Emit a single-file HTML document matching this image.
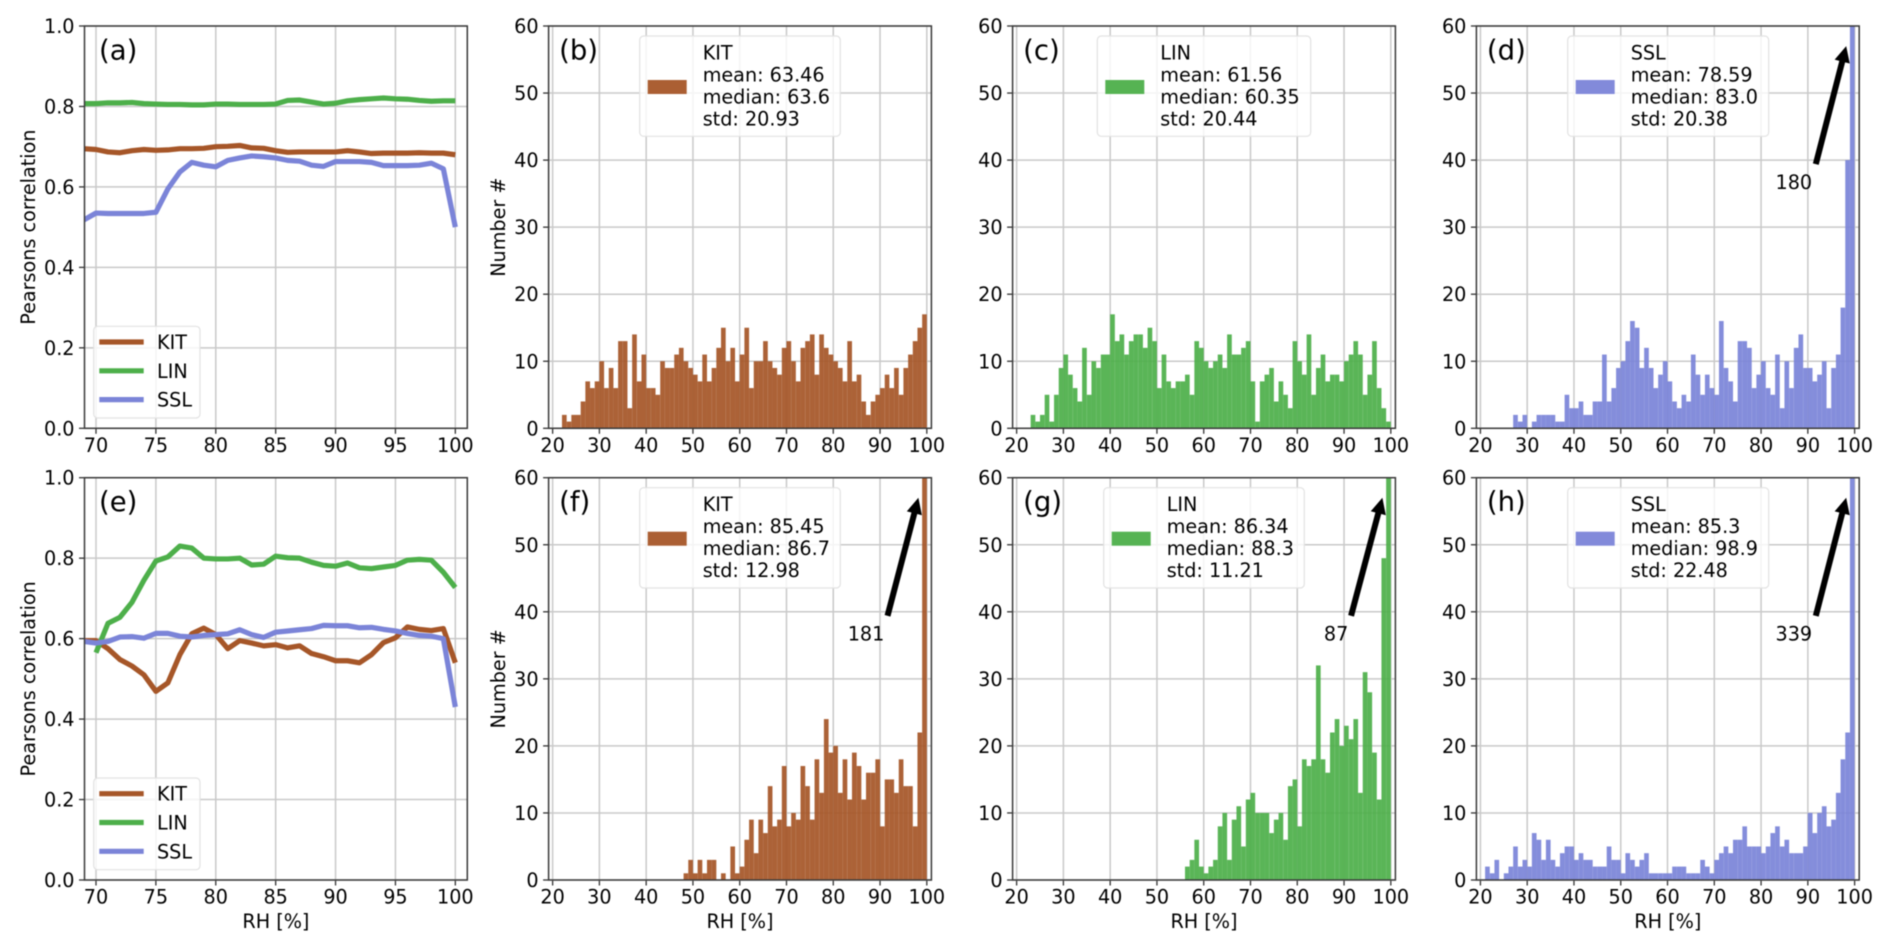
<!DOCTYPE html>
<html lang="en">
<head>
<meta charset="utf-8">
<title>RH correlation and histograms</title>
<style>
html,body{margin:0;padding:0;background:#fff;width:1892px;height:950px;overflow:hidden}
svg{display:block;filter:blur(0.6px)}
text{font-family:"DejaVu Sans","Liberation Sans",sans-serif;fill:#000}
</style>
</head>
<body>
<svg id="chart" xmlns="http://www.w3.org/2000/svg" width="1892" height="950" viewBox="0 0 1892 950"></svg>
<script>
// ---------- data ----------
const rhValues = [69,70,71,72,73,74,75,76,77,78,79,80,81,82,83,84,85,86,87,88,89,90,91,92,93,94,95,96,97,98,99,100];
const corrTicks = [0,0.2,0.4,0.6,0.8,1.0];
const corrTickLabels = ['0.0','0.2','0.4','0.6','0.8','1.0'];
const rhLineTicks = [70,75,80,85,90,95,100];
const countTicks = [0,10,20,30,40,50,60];
const rhHistTicks = [20,30,40,50,60,70,80,90,100];

const kitCorrA = [.695,.693,.687,.685,.69,.693,.691,.692,.695,.695,.696,.70,.701,.703,.697,.696,.69,.686,.687,.687,.687,.687,.69,.687,.683,.684,.684,.684,.685,.684,.684,.68];
const linCorrA = [.807,.807,.809,.809,.81,.807,.806,.805,.805,.804,.804,.806,.806,.805,.805,.805,.806,.815,.816,.811,.806,.808,.814,.817,.819,.821,.819,.818,.815,.813,.814,.814];
const sslCorrA = [.518,.535,.534,.534,.534,.534,.537,.595,.637,.661,.654,.65,.666,.672,.677,.675,.672,.666,.664,.654,.651,.663,.663,.663,.661,.653,.653,.653,.654,.659,.645,.50];

const kitCorrE = [.595,.595,.575,.548,.532,.51,.469,.49,.56,.612,.626,.61,.575,.595,.589,.582,.585,.577,.582,.563,.555,.545,.545,.54,.56,.59,.602,.629,.623,.62,.625,.54];
const linCorrE = [null,.565,.638,.653,.69,.745,.793,.803,.83,.825,.80,.798,.798,.80,.783,.785,.805,.801,.80,.79,.782,.78,.788,.776,.774,.778,.782,.795,.797,.795,.765,.727];
const sslCorrE = [.593,.589,.593,.604,.605,.601,.613,.613,.606,.604,.608,.61,.612,.622,.61,.603,.616,.619,.622,.625,.633,.632,.632,.627,.628,.623,.619,.613,.608,.606,.6,.43];

const firstBinB = 22;
const countsB = [2,1,2,2,4,7,6,7,10,6,9,6,13,13,3,14,7,11,6,6,5,10,9,9,11,12,10,9,8,7,11,7,9,12,15,10,12,7,11,15,6,10,10,13,10,9,8,12,13,10,7,12,13,14,8,14,12,11,10,9,7,13,7,8,4,2,4,5,6,8,6,9,5,9,11,13,15,17];
const firstBinC = 23;
const countsC = [2,1,2,5,1,5,9,11,8,6,4,12,5,10,9,11,11,17,13,14,11,13,14,14,12,15,13,6,11,7,6,7,7,8,5,13,12,10,9,10,11,9,14,11,11,12,13,7,1,7,8,9,4,7,5,3,13,10,8,14,5,9,11,7,8,8,7,10,11,13,11,5,8,13,6,3,1];
const firstBinD = 27;
const countsD = [2,1,2,0,1,2,2,2,2,1,1,5,3,3,4,2,2,4,4,11,4,6,9,10,13,16,15,9,12,9,6,8,10,7,4,3,5,4,11,8,5,8,6,5,16,9,7,4,13,13,12,6,8,10,6,5,11,3,10,6,12,14,9,9,7,8,10,3,9,11,18,40,180];
const firstBinF = 48;
const countsF = [1,3,1,3,1,3,3,0,1,0,5,1,2,6,9,4,9,7,14,8,9,17,8,10,9,17,14,9,18,13,24,19,20,13,18,12,19,17,12,16,16,18,8,15,15,13,18,14,14,8,22,181];
const firstBinG = 56;
const countsG = [2,3,6,2,1,2,3,8,10,3,9,11,5,12,13,10,10,10,7,9,10,6,14,15,8,18,17,18,32,18,16,22,24,20,23,21,24,13,31,28,19,12,48,87];
const firstBinH = 21;
const countsH = [2,1,3,0,1,2,5,2,3,2,7,6,3,6,3,2,4,5,5,3,4,3,3,2,2,2,5,3,3,1,4,3,2,3,4,1,1,1,1,1,2,2,2,1,1,1,3,2,1,3,4,5,4,6,6,8,5,5,5,4,5,7,8,5,6,4,4,4,5,10,7,10,11,8,9,13,18,22,339];

const statsB = ['KIT','mean: 63.46','median: 63.6','std: 20.93'];
const statsC = ['LIN','mean: 61.56','median: 60.35','std: 20.44'];
const statsD = ['SSL','mean: 78.59','median: 83.0','std: 20.38'];
const statsF = ['KIT','mean: 85.45','median: 86.7','std: 12.98'];
const statsG = ['LIN','mean: 86.34','median: 88.3','std: 11.21'];
const statsH = ['SSL','mean: 85.3','median: 98.9','std: 22.48'];

// ---------- styles ----------
const KIT_COLOR = '#a65628';
const LIN_COLOR = '#4daf4a';
const SSL_COLOR = '#7b84d8';
const FS = 19.2;
const svg = document.getElementById('chart');
const NS = 'http://www.w3.org/2000/svg';

function make(tag, attrs, parent) {
  const n = document.createElementNS(NS, tag);
  for (const k in attrs) n.setAttribute(k, attrs[k]);
  (parent || svg).appendChild(n);
  return n;
}
function scaleX(ax, v) { return ax.left + (v - ax.xmin) / (ax.xmax - ax.xmin) * (ax.right - ax.left); }
function scaleY(ax, v) { return ax.bottom - (v - ax.ymin) / (ax.ymax - ax.ymin) * (ax.bottom - ax.top); }

// ---------- shared axis frame ----------
function drawFrame(ax, key, letter, letterX, xTicks, xLabels, yTicks, yLabels, yTitle, yTitleX, xTitle) {
  const g = make('g', {});
  
  
  const clip = make('clipPath', { id: 'clip-' + key }, g);
  make('rect', { x: ax.left, y: ax.top, width: ax.right - ax.left, height: ax.bottom - ax.top }, clip);

  xTicks.forEach(function (t, i) {
    const x = scaleX(ax, t);
    const gl = make('line', { x1: x, x2: x, y1: ax.top, y2: ax.bottom, stroke: '#c9c9c9', 'stroke-width': 1.5 }, g);
    
    
    const tk = make('line', { x1: x, x2: x, y1: ax.bottom, y2: ax.bottom + 5.5, stroke: '#333', 'stroke-width': 1.3 }, g);
    
    
    const lb = make('text', { x: x, y: ax.bottom + 23.7, 'text-anchor': 'middle', 'font-size': FS }, g);
    lb.textContent = xLabels[i];
    
    
  });
  yTicks.forEach(function (t, i) {
    const y = scaleY(ax, t);
    const gl = make('line', { x1: ax.left, x2: ax.right, y1: y, y2: y, stroke: '#c9c9c9', 'stroke-width': 1.5 }, g);
    
    
    const tk = make('line', { x1: ax.left - 5.5, x2: ax.left, y1: y, y2: y, stroke: '#333', 'stroke-width': 1.3 }, g);
    
    
    const lb = make('text', { x: ax.left - 10, y: y + 7, 'text-anchor': 'end', 'font-size': FS }, g);
    lb.textContent = yLabels[i];
    
    
  });
  if (yTitle) {
    const cy = (ax.top + ax.bottom) / 2;
    const yt = make('text', { x: yTitleX, y: cy, 'text-anchor': 'middle', 'font-size': FS, transform: 'rotate(-90 ' + yTitleX + ' ' + cy + ')' }, g);
    yt.textContent = yTitle;
    
    
  }
  if (xTitle) {
    const xt = make('text', { x: (ax.left + ax.right) / 2, y: ax.bottom + 48, 'text-anchor': 'middle', 'font-size': FS }, g);
    xt.textContent = xTitle;
    
    
  }
  const marks = make('g', { 'clip-path': 'url(#clip-' + key + ')' }, g);
  
  
  const over = make('g', {}, g);
  
  

  const sp = make('rect', { x: ax.left, y: ax.top, width: ax.right - ax.left, height: ax.bottom - ax.top, fill: 'none', stroke: '#3a3a3a', 'stroke-width': 1.5 }, over);
  
  
  const pl = make('text', { x: letterX, y: ax.top + 33.5, 'font-size': 27.5 }, over);
  pl.textContent = letter;
  
  
  return { marks: marks, over: over };
}

// ---------- line panels ----------
function drawLinePanel(key, letter, top, bottom, kit, lin, ssl, xTitle) {
  const ax = { left: 84.5, right: 467.3, top: top, bottom: bottom, xmin: 69.04, xmax: 101, ymin: 0, ymax: 1 };
  const f = drawFrame(ax, key, letter, 99, rhLineTicks, rhLineTicks, corrTicks, corrTickLabels, 'Pearsons correlation', 35, xTitle);
  const series = [['KIT', kit, KIT_COLOR], ['LIN', lin, LIN_COLOR], ['SSL', ssl, SSL_COLOR]];
  series.forEach(function (s) {
    let pts = [];
    s[1].forEach(function (v, i) {
      if (v !== null) pts.push(scaleX(ax, rhValues[i]).toFixed(2) + ',' + scaleY(ax, v).toFixed(2));
    });
    const line = make('polyline', { points: pts.join(' '), fill: 'none', stroke: s[2], 'stroke-width': 5.2, 'stroke-linejoin': 'round' }, f.marks);
    
    
  });
  const lg = make('g', {}, f.over);
  
  
  const ly = top + 300.3;
  const box = make('rect', { x: 93.7, y: ly, width: 106.3, height: 91.7, rx: 4, fill: 'rgba(255,255,255,0.8)', stroke: '#e2e2e2', 'stroke-width': 1.2 }, lg);
  
  
  series.forEach(function (s, i) {
    const yy = ly + 15.7 + i * 28.8;
    const sw = make('line', { x1: 99.3, x2: 143.7, y1: yy, y2: yy, stroke: s[2], 'stroke-width': 5.2 }, lg);
    
    
    const tx = make('text', { x: 157, y: yy + 7, 'font-size': FS }, lg);
    tx.textContent = s[0];
    
    
  });
}

// ---------- histogram panels ----------
function drawHistPanel(key, letter, left, top, bottom, color, firstBin, counts, stats, lgLeft, lgRight, yTitle, xTitle, note) {
  const ax = { left: left, right: left + 382.8, top: top, bottom: bottom, xmin: 19.14, xmax: 100.98, ymin: 0, ymax: 60 };
  const f = drawFrame(ax, key, letter, left + 10.5, rhHistTicks, rhHistTicks, countTicks, countTicks, yTitle, 505, xTitle);
  counts.forEach(function (c, i) {
    if (c <= 0) return;
    const x0 = scaleX(ax, firstBin + i), x1 = scaleX(ax, firstBin + i + 1);
    const y = scaleY(ax, c);
    const bar = make('rect', { x: x0.toFixed(2), y: y.toFixed(2), width: (x1 - x0).toFixed(2), height: (ax.bottom - y).toFixed(2), fill: color, 'fill-opacity': 0.93 }, f.marks);
    
    
  });
  if (note) {
    const bx = scaleX(ax, note.fromX), by = scaleY(ax, 39.4);
    const tx = scaleX(ax, 98.2), ty = scaleY(ax, 57);
    const dx = tx - bx, dy = ty - by, len = Math.sqrt(dx * dx + dy * dy);
    const ux = dx / len, uy = dy / len, nx = -uy, ny = ux;
    const hl = 16, hw = 7.8, sw = 3;
    const nk = [tx - ux * hl, ty - uy * hl];
    const pts = [
      [bx + nx * sw, by + ny * sw], [nk[0] + nx * sw, nk[1] + ny * sw], [nk[0] + nx * hw, nk[1] + ny * hw],
      [tx, ty], [nk[0] - nx * hw, nk[1] - ny * hw], [nk[0] - nx * sw, nk[1] - ny * sw], [bx - nx * sw, by - ny * sw]
    ].map(function (p) { return p[0].toFixed(2) + ',' + p[1].toFixed(2); }).join(' ');
    const ar = make('polygon', { points: pts, fill: '#000' }, f.over);
    
    
    const at = make('text', { x: scaleX(ax, note.textX), y: scaleY(ax, 35.7), 'text-anchor': 'middle', 'font-size': FS }, f.over);
    at.textContent = note.label;
    
    
  }
  const lg = make('g', {}, f.over);
  
  
  const ly = top + 10;
  const box = make('rect', { x: lgLeft, y: ly, width: lgRight - lgLeft, height: 100.3, rx: 4, fill: 'rgba(255,255,255,0.8)', stroke: '#e2e2e2', 'stroke-width': 1.2 }, lg);
  
  
  const sw = make('rect', { x: lgLeft + 8, y: ly + 44, width: 39, height: 14, fill: color, 'fill-opacity': 0.95 }, lg);
  
  
  stats.forEach(function (s, i) {
    const t = make('text', { x: lgLeft + 63, y: ly + 23.3 + i * 22, 'font-size': FS }, lg);
    t.textContent = s;
    
    
  });
}

const TOP1 = 26, BOT1 = 428.3, TOP2 = 477.7, BOT2 = 880;
const COL2 = 548.6, COL3 = 1012.6, COL4 = 1476.4;

drawLinePanel('a', '(a)', TOP1, BOT1, kitCorrA, linCorrA, sslCorrA, null);
drawHistPanel('b', '(b)', COL2, TOP1, BOT1, KIT_COLOR, firstBinB, countsB, statsB, 639.7, 840.3, 'Number #', null, null);
drawHistPanel('c', '(c)', COL3, TOP1, BOT1, LIN_COLOR, firstBinC, countsC, statsC, 1097.3, 1310.7, null, null, null);
drawHistPanel('d', '(d)', COL4, TOP1, BOT1, SSL_COLOR, firstBinD, countsD, statsD, 1567.7, 1768.7, null, null, { fromX: 91.7, textX: 87, label: '180' });
drawLinePanel('e', '(e)', TOP2, BOT2, kitCorrE, linCorrE, sslCorrE, 'RH [%]');
drawHistPanel('f', '(f)', COL2, TOP2, BOT2, KIT_COLOR, firstBinF, countsF, statsF, 639.7, 840.3, 'Number #', 'RH [%]', { fromX: 91.6, textX: 87, label: '181' });
drawHistPanel('g', '(g)', COL3, TOP2, BOT2, LIN_COLOR, firstBinG, countsG, statsG, 1103.7, 1304.3, null, 'RH [%]', { fromX: 91.5, textX: 88.3, label: '87' });
drawHistPanel('h', '(h)', COL4, TOP2, BOT2, SSL_COLOR, firstBinH, countsH, statsH, 1567.7, 1768.7, null, 'RH [%]', { fromX: 91.7, textX: 87, label: '339' });
</script>
</body>
</html>
